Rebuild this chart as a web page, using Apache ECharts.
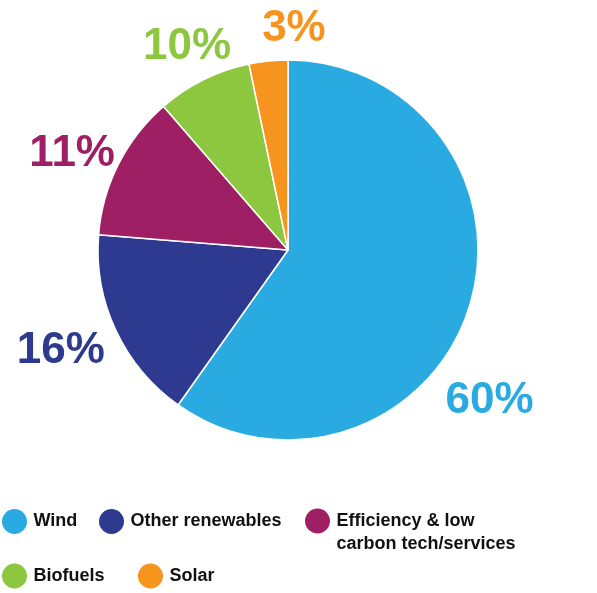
<!DOCTYPE html>
<html>
<head>
<meta charset="utf-8">
<script src="https://cdn.jsdelivr.net/npm/echarts@6/dist/echarts.min.js"></script>
<style>
html,body{margin:0;padding:0;background:#fff;}
#chart{width:597px;height:593px;}
</style>
</head>
<body>
<div id="chart"></div>
<script>
// ---- data ----
var categories = ['Wind', 'Other renewables', 'Efficiency & low carbon tech/services', 'Biofuels', 'Solar'];
var values = [60, 16.5, 12.4, 8.1, 3.3];
var percentLabels = ['60%', '16%', '11%', '10%', '3%'];

// ---- style ----
var colors = ['#29abe2', '#2e3a8f', '#9e1f63', '#8dc63f', '#f7941d'];
var labelNudge = [[-30, 77], [-7, -2], [1, 14], [7, 15], [31, 21]];
var FONT = 'Liberation Sans, Arial, Helvetica, sans-serif';

var chart = echarts.init(document.getElementById('chart'), null, {renderer: 'canvas'});

var pieData = categories.map(function (c, i) {
  return {name: c, value: values[i], itemStyle: {color: colors[i]}};
});
var labelData = percentLabels.map(function (t, i) {
  return {name: t, value: values[i], label: {color: colors[i]}};
});

var legendBase = {
  padding: 0,
  itemWidth: 28,
  itemHeight: 27,
  icon: 'circle',
  selectedMode: false,
  textStyle: {fontFamily: FONT, fontWeight: 'bold', fontSize: 18, color: '#111'}
};
function mkLegend(name, left, top, extra) {
  var l = Object.assign({}, legendBase, {data: [name], left: left, top: top});
  if (extra) {
    l.textStyle = Object.assign({}, legendBase.textStyle, extra.textStyle || {});
    if (extra.formatter) l.formatter = extra.formatter;
  }
  return l;
}

var option = {
  animation: false,
  backgroundColor: '#fff',
  legend: [
    mkLegend(categories[0], 0, 507),
    mkLegend(categories[1], 97, 507),
    mkLegend(categories[2], 303, 486.5, {
      textStyle: {lineHeight: 23},
      formatter: function () { return '\nEfficiency & low\ncarbon tech/services'; }
    }),
    mkLegend(categories[3], 0, 561.5),
    mkLegend(categories[4], 136, 561.5)
  ],
  series: [
    {
      type: 'pie',
      center: [288, 250],
      radius: [0, 190],
      startAngle: 90,
      clockwise: true,
      silent: true,
      label: {show: false},
      labelLine: {show: false},
      itemStyle: {borderColor: '#ffffff', borderWidth: 1.5},
      emphasis: {disabled: true},
      data: pieData
    },
    {
      type: 'pie',
      center: [288, 250],
      radius: [190, 290],
      startAngle: 90,
      clockwise: true,
      silent: true,
      z: 5,
      itemStyle: {color: 'rgba(0,0,0,0)', borderWidth: 0},
      emphasis: {disabled: true},
      labelLine: {show: false},
      label: {
        show: true,
        position: 'inside',
        formatter: '{b}',
        fontFamily: FONT,
        fontWeight: 'bold',
        fontSize: 44
      },
      labelLayout: function (p) {
        var n = labelNudge[p.dataIndex];
        return {dx: n[0], dy: n[1]};
      },
      data: labelData
    }
  ]
};
chart.setOption(option);
</script>
</body>
</html>
